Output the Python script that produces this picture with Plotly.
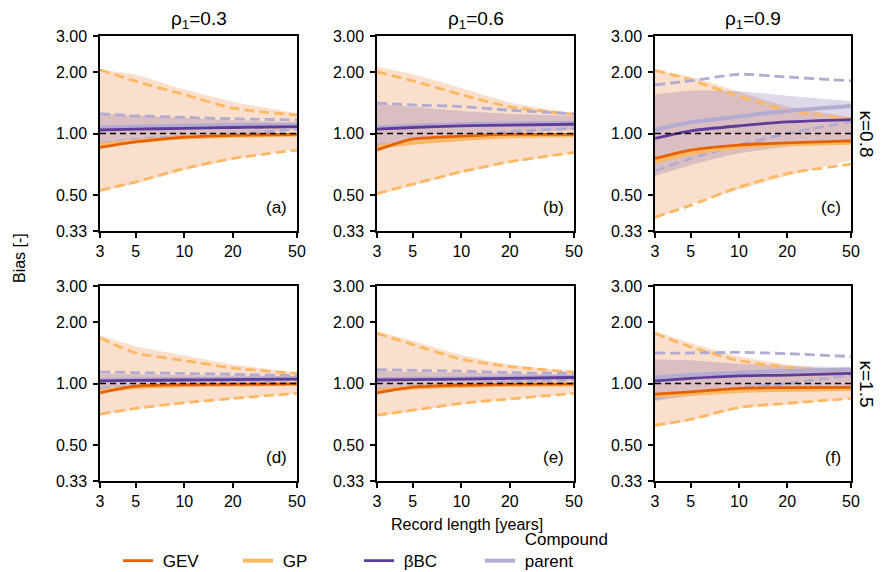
import math
import plotly.graph_objects as go
from plotly.subplots import make_subplots

# ---------------- data ----------------
record_length = [3, 5, 10, 20, 50]
panel_labels = ["(a)", "(b)", "(c)", "(d)", "(e)", "(f)"]
col_titles = ["ρ<sub>1</sub>=0.3", "ρ<sub>1</sub>=0.6", "ρ<sub>1</sub>=0.9"]
row_titles = ["κ=0.8", "κ=1.5"]
y_tickvals = [1/3, 0.5, 1, 2, 3]
y_ticktext = ["0.33", "0.50", "1.00", "2.00", "3.00"]
x_tickvals = [3, 5, 10, 20, 50]
series_names = ["GEV", "GP", "βBC", "Compound<br>parent"]

# one row per panel (a..f), values at the record lengths
gev_med = [[0.855, 0.91, 0.96, 0.98, 0.99],
           [0.83, 0.94, 0.97, 0.99, 0.99],
           [0.755, 0.83, 0.878, 0.90, 0.92],
           [0.90, 0.97, 0.985, 0.99, 0.995],
           [0.90, 0.96, 0.98, 0.99, 0.995],
           [0.888, 0.91, 0.947, 0.955, 0.958]]
gev_lo = [[0.52, 0.57, 0.66, 0.745, 0.84],
          [0.50, 0.555, 0.64, 0.72, 0.80],
          [0.38, 0.45, 0.53, 0.62, 0.74],
          [0.70, 0.745, 0.80, 0.84, 0.89],
          [0.69, 0.73, 0.79, 0.835, 0.89],
          [0.61, 0.66, 0.75, 0.79, 0.84]]
gev_hi = [[2.05, 1.94, 1.64, 1.43, 1.26],
          [2.12, 1.95, 1.67, 1.42, 1.26],
          [2.04, 1.90, 1.60, 1.36, 1.20],
          [1.72, 1.52, 1.37, 1.24, 1.13],
          [1.80, 1.62, 1.38, 1.24, 1.15],
          [1.80, 1.58, 1.36, 1.24, 1.15]]
gp_med = [[0.88, 0.915, 0.955, 0.975, 0.985],
          [0.86, 0.90, 0.94, 0.97, 0.98],
          [0.73, 0.80, 0.86, 0.885, 0.90],
          [0.92, 0.96, 0.98, 0.99, 0.995],
          [0.92, 0.955, 0.975, 0.985, 0.99],
          [0.87, 0.89, 0.92, 0.93, 0.94]]
gp_lo = [[0.527, 0.58, 0.674, 0.755, 0.83],
         [0.508, 0.565, 0.65, 0.727, 0.808],
         [0.39, 0.445, 0.547, 0.637, 0.708],
         [0.708, 0.755, 0.805, 0.845, 0.895],
         [0.70, 0.74, 0.80, 0.84, 0.895],
         [0.625, 0.667, 0.764, 0.80, 0.845]]
gp_hi = [[2.05, 1.80, 1.55, 1.33, 1.23],
         [2.00, 1.81, 1.55, 1.35, 1.24],
         [2.04, 1.83, 1.52, 1.30, 1.18],
         [1.67, 1.41, 1.295, 1.19, 1.12],
         [1.76, 1.55, 1.315, 1.21, 1.135],
         [1.76, 1.51, 1.295, 1.20, 1.12]]
bbc_med = [[1.04, 1.05, 1.06, 1.07, 1.08],
           [1.05, 1.07, 1.09, 1.10, 1.11],
           [0.947, 1.03, 1.09, 1.14, 1.17],
           [1.03, 1.035, 1.04, 1.045, 1.05],
           [1.04, 1.045, 1.05, 1.06, 1.07],
           [1.03, 1.06, 1.09, 1.10, 1.12]]
bbc_lo = [[0.88, 0.93, 0.97, 1.00, 1.04],
          [0.87, 0.91, 0.96, 1.00, 1.04],
          [0.62, 0.70, 0.80, 0.86, 0.90],
          [0.95, 0.97, 0.99, 1.01, 1.03],
          [0.94, 0.96, 0.99, 1.01, 1.03],
          [0.82, 0.87, 0.92, 0.94, 0.96]]
bbc_hi = [[1.25, 1.22, 1.19, 1.16, 1.14],
          [1.40, 1.35, 1.29, 1.25, 1.22],
          [1.55, 1.62, 1.61, 1.53, 1.44],
          [1.12, 1.11, 1.10, 1.095, 1.09],
          [1.15, 1.14, 1.13, 1.12, 1.11],
          [1.31, 1.30, 1.25, 1.22, 1.20]]
cp_med = [[1.07, 1.08, 1.09, 1.10, 1.10],
          [1.07, 1.09, 1.11, 1.12, 1.13],
          [1.04, 1.135, 1.21, 1.29, 1.365],
          [1.04, 1.045, 1.05, 1.055, 1.06],
          [1.05, 1.055, 1.06, 1.07, 1.08],
          [1.07, 1.10, 1.13, 1.15, 1.17]]
cp_lo = [[0.895, 0.936, 0.97, 0.99, 1.05],
         [0.878, 0.91, 0.95, 1.02, 1.06],
         [0.656, 0.755, 0.878, 1.00, 1.14],
         [0.947, 0.97, 0.99, 1.02, 1.04],
         [0.937, 0.96, 0.99, 1.02, 1.04],
         [0.845, 0.895, 0.95, 1.00, 1.10]]
cp_hi = [[1.25, 1.22, 1.20, 1.18, 1.165],
         [1.41, 1.38, 1.355, 1.30, 1.25],
         [1.73, 1.81, 1.95, 1.89, 1.81],
         [1.14, 1.13, 1.12, 1.11, 1.09],
         [1.17, 1.16, 1.15, 1.13, 1.12],
         [1.41, 1.41, 1.42, 1.40, 1.355]]
reference_bias = 1.0

# ---------------- style ----------------
C_GEV = "#e66101"
C_GP = "#fdb863"
C_BBC = "#5e3c99"
C_CP = "#b2abd2"
FILL_GEV = "rgba(230,97,1,0.2)"
FILL_BBC = "rgba(94,60,153,0.2)"
FONT = "Arial, 'Liberation Sans', sans-serif"
DASH = "10px,5px"

# page has an 8px body margin: figure is drawn at (8, 8) in the window
OFF = 8
W, H = 882 - OFF, 572 - OFF


def fx(px):
    return (px - OFF) / W


def fy(py):
    return 1 - (py - OFF) / H


fig = make_subplots(rows=2, cols=3, horizontal_spacing=0.05, vertical_spacing=0.05)

xdom = [(100, 297), (377, 574), (655, 851)]
ydom = [(36, 231), (286, 481)]
legend_ids = ["legend", "legend2", "legend3", "legend4"]
legend_x = [118, 238, 359, 480]

for p in range(6):
    r, c = p // 3 + 1, p % 3 + 1
    first = (p == 0)
    line_kw = dict(shape="spline", smoothing=0.6)
    # GEV shaded band
    fig.add_trace(go.Scatter(x=record_length, y=gev_lo[p], mode="lines",
                             line=dict(width=0, **line_kw), showlegend=False, hoverinfo="skip"), row=r, col=c)
    fig.add_trace(go.Scatter(x=record_length, y=gev_hi[p], mode="lines", fill="tonexty",
                             fillcolor=FILL_GEV, line=dict(width=0, **line_kw),
                             showlegend=False, hoverinfo="skip"), row=r, col=c)
    # betaBC shaded band
    fig.add_trace(go.Scatter(x=record_length, y=bbc_lo[p], mode="lines",
                             line=dict(width=0, **line_kw), showlegend=False, hoverinfo="skip"), row=r, col=c)
    fig.add_trace(go.Scatter(x=record_length, y=bbc_hi[p], mode="lines", fill="tonexty",
                             fillcolor=FILL_BBC, line=dict(width=0, **line_kw),
                             showlegend=False, hoverinfo="skip"), row=r, col=c)
    # dashed bounds
    for arr, col in [(gp_lo, C_GP), (gp_hi, C_GP), (cp_lo, C_CP), (cp_hi, C_CP)]:
        fig.add_trace(go.Scatter(x=record_length, y=arr[p], mode="lines",
                                 line=dict(color=col, width=2.8, dash=DASH, **line_kw),
                                 showlegend=False), row=r, col=c)
    # medians (single-line names get an empty first line so symbols align at the bottom)
    for arr, col, w, k in [(gp_med, C_GP, 4, 1), (gev_med, C_GEV, 2.8, 0),
                           (cp_med, C_CP, 4, 3), (bbc_med, C_BBC, 2.8, 2)]:
        name = series_names[k]
        if "<br>" in name:
            label = "<br>".join("\u00a0" + s for s in name.split("<br>"))
        else:
            label = "\u00a0<br>\u00a0" + name
        fig.add_trace(go.Scatter(x=record_length, y=arr[p], mode="lines", name=label,
                                 line=dict(color=col, width=w, **line_kw),
                                 showlegend=first, legend=legend_ids[k]), row=r, col=c)
    fig.add_hline(y=reference_bias, line=dict(color="black", width=1.4, dash="6px,4px"), row=r, col=c)

    axn = "" if p == 0 else str(p + 1)
    x0, x1 = xdom[c - 1]
    y0, y1 = ydom[r - 1]
    fig.layout["xaxis" + axn].update(
        type="log", range=[math.log10(3), math.log10(50)], tickvals=x_tickvals,
        ticktext=[str(v) for v in x_tickvals], domain=[fx(x0), fx(x1)], automargin=False,
        showline=True, linecolor="black", linewidth=1.5, mirror=True,
        ticks="outside", ticklen=5, tickwidth=1.5, tickcolor="black",
        showgrid=False, zeroline=False, tickfont=dict(size=16, color="black", family=FONT))
    fig.layout["yaxis" + axn].update(
        type="log", range=[math.log10(1 / 3), math.log10(3)], tickvals=y_tickvals,
        ticktext=y_ticktext, domain=[fy(y1), fy(y0)], automargin=False,
        showline=True, linecolor="black", linewidth=1.5, mirror=True,
        ticks="outside", ticklen=5, tickwidth=1.5, tickcolor="black", ticklabelstandoff=3,
        showgrid=False, zeroline=False, tickfont=dict(size=16, color="black", family=FONT))
    fig.add_annotation(text=panel_labels[p], xref=f"x{axn} domain", yref=f"y{axn} domain",
                       x=0.96, y=0.06, xanchor="right", yanchor="bottom", showarrow=False,
                       font=dict(size=17, color="black", family=FONT))

for i, t in enumerate(col_titles):
    x0, x1 = xdom[i]
    fig.add_annotation(text=t, xref="paper", yref="paper", x=fx((x0 + x1) / 2), y=fy(20),
                       xanchor="center", yanchor="middle",
                       showarrow=False, font=dict(size=19, color="black", family=FONT))
for j, t in enumerate(row_titles):
    y0, y1 = ydom[j]
    fig.add_annotation(text=t, xref="paper", yref="paper", x=fx(866), y=fy((y0 + y1) / 2),
                       xanchor="center", yanchor="middle",
                       textangle=90, showarrow=False, font=dict(size=19, color="black", family=FONT))

fig.add_annotation(text="Bias [-]", xref="paper", yref="paper", x=fx(20), y=fy(258),
                   xanchor="center", yanchor="middle",
                   textangle=-90, showarrow=False, font=dict(size=16, color="black", family=FONT))
fig.add_annotation(text="Record length [years]", xref="paper", yref="paper", x=fx(467), y=fy(524),
                   xanchor="center", yanchor="middle",
                   showarrow=False, font=dict(size=16, color="black", family=FONT))

legend_common = dict(orientation="h", xref="container", yref="container",
                     xanchor="left", yanchor="middle", valign="bottom",
                     font=dict(size=17, color="black", family=FONT), bgcolor="rgba(0,0,0,0)")
fig.update_layout(
    template="none",
    width=W, height=H, margin=dict(l=0, r=0, t=0, b=0, autoexpand=False),
    plot_bgcolor="white", paper_bgcolor="white",
    font=dict(family=FONT, color="black"),
    **{lid: dict(x=fx(lx), y=fy(550), **legend_common) for lid, lx in zip(legend_ids, legend_x)}
)

fig.write_html("out.html")
